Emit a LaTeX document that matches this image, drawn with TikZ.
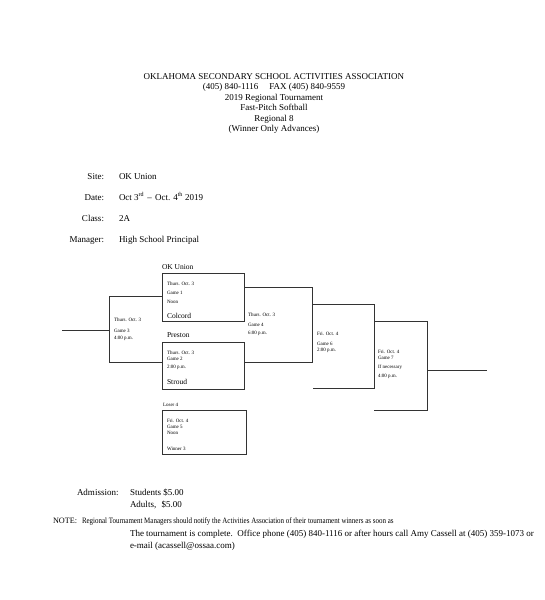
\documentclass[tikz,border=0pt]{standalone}
\usepackage{fontspec}
\usepackage{graphicx}
\setmainfont{Liberation Serif}
\begin{document}
\begin{tikzpicture}[x=1pt,y=-1pt,
  every node/.style={inner sep=0pt,outer sep=0pt},
  ttl/.style={font=\fontsize{9}{10}\selectfont,anchor=mid},
  lbl/.style={font=\fontsize{9}{10}\selectfont,anchor=mid east},
  val/.style={font=\fontsize{9}{10}\selectfont,anchor=mid west},
  info/.style={font=\fontsize{5}{6}\selectfont,anchor=mid west},
  team/.style={font=\fontsize{7.5}{8}\selectfont,anchor=mid west},
  note/.style={font=\fontsize{9}{10}\selectfont,anchor=mid west},
  notesm/.style={font=\fontsize{8.2}{9}\selectfont,anchor=mid west},
  gbox/.style={draw=black!80,line width=0.7pt},
  wire/.style={draw=black!80,line width=0.7pt}]
\useasboundingbox (0,0) rectangle (545,600);
% title
\node[ttl] (t1) at (274,77) {OKLAHOMA SECONDARY SCHOOL ACTIVITIES ASSOCIATION};
\node[ttl] (t2) at (274,87.5) {(405) 840-1116\hspace{1.2em}FAX (405) 840-9559};
\node[ttl] (t3) at (274,98) {2019 Regional Tournament};
\node[ttl] (t4) at (274,108.5) {Fast-Pitch Softball};
\node[ttl] (t5) at (274,119) {Regional 8};
\node[ttl] (t6) at (274,129.5) {(Winner Only Advances)};
% site block
\node[lbl] (l1) at (104,177) {Site:};
\node[val] (v1) at (119,177) {OK Union};
\node[lbl] (l2) at (104,198) {Date:};
\node[val] (v2) at (119,198) {Oct 3\textsuperscript{rd}\hspace{0.35em}--\hspace{0.35em}Oct. 4\textsuperscript{th} 2019};
\node[lbl] (l3) at (104,219) {Class:};
\node[val] (v3) at (119,219) {2A};
\node[lbl] (l4) at (104,240) {Manager:};
\node[val] (v4) at (119,240) {High School Principal};
% boxes
\node[gbox,minimum width=82pt,minimum height=48pt] (b1) at (203,297) {};
\node[gbox,minimum width=82pt,minimum height=47pt] (b2) at (203,365.5) {};
\node[gbox,minimum width=84pt,minimum height=44pt] (b5) at (204,432) {};
% coordinates
\coordinate (g3in) at (62,330);
\coordinate (g3t) at (109,296);
\coordinate (g3b) at (109,362);
\coordinate (g4t) at (312,287);
\coordinate (g4b) at (312,362);
\coordinate (g6l) at (312,304);
\coordinate (g6t) at (374,304);
\coordinate (g6b) at (374,388);
\coordinate (g6bl) at (313,388);
\coordinate (g7t) at (427,321);
\coordinate (g7b) at (427,410);
\coordinate (g7bl) at (374,410);
\coordinate (g7out) at (487,370);
% wires
\draw[wire] (b1.west |- g3t) -- (g3t) -- (g3b) -- (b2.west |- g3b);
\draw[wire] (g3in) -- (g3in -| g3t);
\draw[wire] (b1.east |- g4t) -- (g4t) -- (g4b) -- (b2.east |- g4b);
\draw[wire] (g6l) -- (g6t) -- (g6b) -- (g6bl);
\draw[wire] (g6t |- g7t) -- (g7t) -- (g7b) -- (g7bl);
\draw[wire] (g7out -| g7t) -- (g7out);
% box 1
\node[team] (ok) at (162,267) {OK Union};
\node[info] (b1a) at (167,283.3) {Thurs. Oct. 3};
\node[info] (b1b) at (167,292.3) {Game 1};
\node[info] (b1c) at (167,300.7) {Noon};
\node[team] (col) at (167,316) {Colcord};
% game 3
\node[info] (g3a) at (114,319) {Thurs. Oct. 3};
\node[info] (g3c) at (114,330) {Game 3};
\node[info] (g3d) at (114,337.5) {4:00 p.m.};
% box 2
\node[team] (pre) at (167,335) {Preston};
\node[info] (b2a) at (167,352) {Thurs. Oct. 3};
\node[info] (b2b) at (167,358.5) {Game 2};
\node[info] (b2c) at (167,366) {2:00 p.m.};
\node[team] (str) at (167,382) {Stroud};
% game 4
\node[info] (g4a) at (248,314.5) {Thurs. Oct. 3};
\node[info] (g4c) at (248,324.5) {Game 4};
\node[info] (g4d) at (248,332.5) {6:00 p.m.};
% game 6
\node[info] (g6a) at (317,333) {Fri. Oct. 4};
\node[info] (g6c) at (317,343) {Game 6};
\node[info] (g6d) at (317,349.5) {2:00 p.m.};
% game 7
\node[info] (g7a) at (378,351) {Fri. Oct. 4};
\node[info] (g7c) at (378,357.5) {Game 7};
\node[info] (g7d) at (378,366.5) {If necessary};
\node[info] (g7e) at (378,375) {4:00 p.m.};
% box 5
\node[info] (los) at (163,404) {Loser 4};
\node[info] (b5a) at (167,420) {Fri. Oct. 4};
\node[info] (b5b) at (167,426) {Game 5};
\node[info] (b5c) at (167,432) {Noon};
\node[info] (win) at (167,448) {Winner 3};
% admission
\node[note] (adm) at (77,493) {Admission:};
\node[note] (stu) at (130,493) {Students \$5.00};
\node[note] (adu) at (130,505) {Adults,\hspace{0.6em}\$5.00};
\node[notesm] (nt) at (53,521.5) {NOTE:};
\node[notesm] (n1) at (82,521.5) {\scalebox{0.85}[1]{Regional Tournament Managers should notify the Activities Association of their tournament winners as soon as}};
\node[note] (n2) at (130,534) {The tournament is complete.\hspace{0.5em}Office phone (405) 840-1116 or after hours call Amy Cassell at (405) 359-1073 or};
\node[note] (n3) at (130,546) {e-mail (acassell@ossaa.com)};
\end{tikzpicture}
\end{document}
